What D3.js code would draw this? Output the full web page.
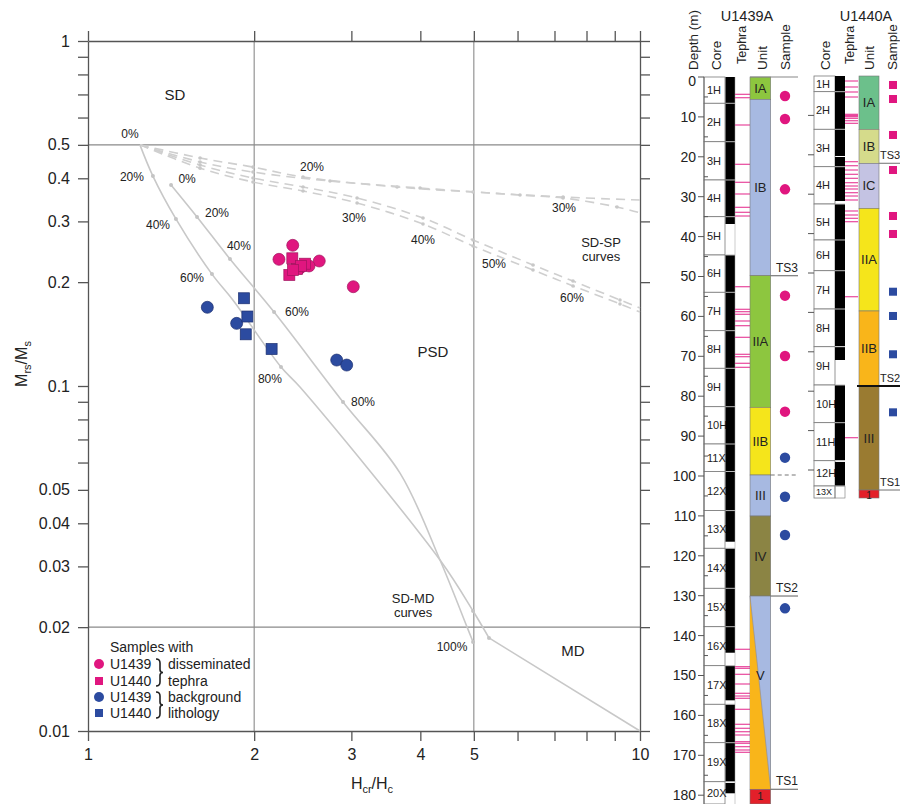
<!DOCTYPE html>
<html><head><meta charset="utf-8">
<script src="https://cdn.jsdelivr.net/npm/d3@7"></script>
<style>body{margin:0;background:#fff} svg{display:block;font-family:"Liberation Sans",Arial,sans-serif}</style>
</head><body><svg id="c" width="900" height="804"></svg>
<script>
// ---------------- Day plot data ----------------
const xTickLabels = [1, 2, 3, 4, 5, 10];
const xTicksAll = [1, 2, 3, 4, 5, 6, 7, 8, 9, 10];
const yTickLabels = [1, 0.5, 0.4, 0.3, 0.2, 0.1, 0.05, 0.04, 0.03, 0.02, 0.01];
const yTicksMinor = [0.9, 0.8, 0.7, 0.6, 0.09, 0.08, 0.07, 0.06];
const yTicksRight = [1,0.9,0.8,0.7,0.6,0.5,0.4,0.3,0.2,0.1,0.09,0.08,0.07,0.06,0.05,0.04,0.03,0.02,0.01];
const gridX = [2, 5];
const gridY = [0.5, 0.02];

// samples [Hcr/Hc, Mrs/Ms]
const u1439Tephra = [[2.349,0.2557],[2.218,0.2329],[2.624,0.2303],[2.514,0.2228],[2.421,0.2198],[3.024,0.1940]];
const u1440Tephra = [[2.345,0.2345],[2.316,0.2098],[2.473,0.2262],[2.391,0.2184],[2.431,0.2228],[2.352,0.2169]];
const u1439Back = [[1.645,0.1691],[1.859,0.1519],[2.822,0.1189],[2.942,0.1150]];
const u1440Back = [[1.917,0.1796],[1.944,0.1590],[1.931,0.1412],[2.151,0.1280]];

// SD-MD mixing curves
const sdmdA = [[1.242,0.5],[1.311,0.406],[1.443,0.305],[1.677,0.211],[1.830,0.1776],[2.237,0.1135],[2.421,0.0993],[4.342,0.0313],[4.984,0.02227],[5.326,0.01861]];
const sdmdATail = [[5.326,0.01861],[10,0.01]];
const sdmdAMarks = [[1.311,0.406],[1.443,0.305],[1.677,0.211],[2.237,0.1135],[4.984,0.02227],[5.326,0.01861]];
const sdmdB = [[1.414,0.3825],[1.576,0.309],[1.808,0.2334],[2.173,0.1638],[2.897,0.0899],[3.675,0.0559],[4.342,0.0313],[4.861,0.02001],[4.984,0.01811]];
const sdmdBMarks = [[1.414,0.3825],[1.576,0.309],[1.808,0.2334],[2.173,0.1638],[2.897,0.0899],[4.984,0.01811]];
// SD-SP mixing curves (dashed)
const sdsp1 = [[1.242,0.5],[1.596,0.458],[1.990,0.431],[2.452,0.4035],[3.630,0.3774],[4.984,0.3649],[7.254,0.353],[10,0.346]];
const sdsp2 = [[1.242,0.5],[1.596,0.446],[1.990,0.417],[2.744,0.3928],[3.995,0.3749],[6.062,0.3577],[7.254,0.3507],[9.085,0.3303],[10,0.3175]];
const sdsp3 = [[1.242,0.5],[1.596,0.437],[1.990,0.4007],[2.452,0.3774],[3.072,0.3507],[4.045,0.3069],[4.984,0.265],[6.400,0.2243],[7.561,0.2015],[9.199,0.1776],[10,0.1683]];
const sdsp4 = [[1.242,0.5],[1.596,0.428],[1.990,0.3902],[2.452,0.3674],[3.072,0.3392],[4.045,0.2948],[4.984,0.2545],[6.400,0.2169],[7.561,0.195],[9.199,0.1729],[10,0.1638]];

const regionLabels = [["SD",1.437,0.6973],["PSD",4.217,0.1255],["MD",7.561,0.01705],["SD-SP",8.5,0.2615],["curves",8.5,0.2381],["SD-MD",3.88,0.02429],["curves",3.88,0.02212]];
const pctLabels = [["0%",1.191,0.5375],["20%",1.201,0.4035],["0%",1.512,0.398],["20%",1.713,0.3173],["40%",1.339,0.2929],["40%",1.877,0.2545],["60%",1.543,0.2056],["60%",2.391,0.1638],["80%",2.136,0.1048],["80%",3.149,0.0899],["100%",4.565,0.01751],
  ["20%",2.546,0.4313],["30%",3.033,0.3069],["40%",4.045,0.265],["50%",5.439,0.2258],["60%",7.53,0.1799],["30%",7.283,0.3281]];

// ---------------- U1439A core log data (depth m) ----------------
const depthTicks = d3.range(0, 181, 10);
const depthMinor = d3.range(5, 180, 10);
const coresA = ["1H","2H","3H","4H","5H","6H","7H","8H","9H","10H","11X","12X","13X","14X","15X","16X","17X","18X","19X","20X"];
const coreTopsA = [0,6.59,16.22,25.81,35.01,44.61,53.96,63.58,73.01,82.63,91.98,98.87,108.67,118.12,128.15,137.77,147.54,157.22,166.84,176.62,182.2];
const recoveryA = [[0,36.84],[44.61,116.47],[118.12,144.29],[147.54,156.22],[157.22,176.62],[176.94,179.52]];
const tephraA = [4.34,5.19,12.03,21.88,26.39,29.32,32.66,33.91,34.84,52.56,58.22,58.82,59.47,61.15,62.33,65.24,69.5,70.1,71.75,72.76,
  143.43,147.79,148.2,149.7,152.13,154.46,155.14,155.71,158.47,162.23,163.23,164.09,164.91,166.59,166.99,167.84,168.67,169.25];
const unitsA = [["IA",0,5.59,"#8dc63f"],["IB",5.59,49.8,"#a7b9e1"],["IIA",49.8,82.78,"#8dc63f"],["IIB",82.78,99.75,"#f5e51b"],["III",99.75,110.03,"#a7b9e1"],["IV",110.03,130.08,"#8b8444"],["V",130.08,178.52,"#a7b9e1"],["1",178.52,182.2,"#e3202a"]];
const samplesATephra = [4.76,10.53,28.15,54.81,69.92,83.88];
const samplesABack = [95.41,105.19,114.79,133.16];
const tsA = [["TS3",49.8,false],["",99.75,true],["TS2",130.08,false],["TS1",178.52,false]];

// ---------------- U1440A core log data (depth m) ----------------
const depthTicksB = d3.range(10, 101, 10);
const coresB = ["1H","2H","3H","4H","5H","6H","7H","8H","9H","10H","11H","12H","13X"];
const coreTopsB = [0,3.98,13.53,23.02,32.49,41.62,49.42,59.14,68.71,78.43,87.99,97.64,104.06,107.11];
const recoveryB = [[0,20.3],[20.56,31.73],[32.49,68.53],[68.78,72.08],[78.43,97.46],[97.97,104.06]];
const tephraB = [1.27,2.79,4.06,5.33,9.72,9.9,10.03,10.2,10.33,10.74,11.35,12.01,21.75,22.77,23.86,24.95,25.97,27.08,27.92,28.68,29.62,30.46,31.47,34.26,35.28,36.12,36.98,56.02,91.8];
const unitsB = [["IA",0,13.53,"#6cc08b"],["IB",13.53,22.16,"#d5db8b"],["IC",22.16,33.58,"#c4c3e3"],["IIA",33.58,59.64,"#f5e51b"],["IIB",59.64,78.68,"#f9b51a"],["III",78.68,105.08,"#9a7b31"],["1",105.08,107.11,"#e3202a"]];
const samplesBTephra = [2.28,5.84,14.97,23.86,35.53,40.1];
const samplesBBack = [54.75,60.91,70.63,85.36];
const tsB = [["TS3",22.16,"#888"],["TS2",78.68,"#111"],["TS1",105.08,"#888"]];

// ---------------- drawing ----------------
const svg = d3.select("#c");
const PINK = "#e0167f", PINK_S = "#a0155e", BLUE = "#2c4ba0", BLUE_S = "#1c2f70";
const x = d3.scaleLog().domain([1, 10]).range([88, 640]);
const y = d3.scaleLog().domain([0.01, 1]).range([731, 41]);
const plot = svg.append("g");

plot.selectAll(".gx").data(gridX).join("line")
  .attr("x1", d => x(d)).attr("x2", d => x(d)).attr("y1", y(1)).attr("y2", y(0.01))
  .attr("stroke", "#8a8a8a").attr("stroke-width", 1.1);
plot.selectAll(".gy").data(gridY).join("line")
  .attr("x1", x(1)).attr("x2", x(10)).attr("y1", d => y(d)).attr("y2", d => y(d))
  .attr("stroke", "#8a8a8a").attr("stroke-width", 1.1);

function styleAxis(g) {
  g.select(".domain").attr("stroke", "#555").attr("stroke-width", 1.3);
  g.selectAll(".tick line").attr("stroke", "#555").attr("stroke-width", 1.3);
  g.selectAll(".tick text").attr("fill", "#222").style("font-size", "16px").style("font-family", '"Liberation Sans",Arial,sans-serif');
}
const fmtY = d => yTickLabels.includes(d) ? String(d) : "";
plot.append("g").attr("transform", `translate(${x(1)},0)`)
  .call(d3.axisLeft(y).tickValues(yTickLabels.concat(yTicksMinor)).tickFormat(fmtY).tickSize(10).tickSizeOuter(0).tickPadding(8))
  .call(styleAxis);
plot.append("g").attr("transform", `translate(${x(10)},0)`)
  .call(d3.axisRight(y).tickValues(yTicksRight).tickFormat("").tickSize(10).tickSizeOuter(0))
  .call(styleAxis);
plot.append("g").attr("transform", `translate(0,${y(1)})`)
  .call(d3.axisTop(x).tickValues(xTicksAll).tickFormat("").tickSize(10).tickSizeOuter(0))
  .call(styleAxis);
plot.append("g").attr("transform", `translate(0,${y(0.01)})`)
  .call(d3.axisBottom(x).tickValues(xTicksAll).tickFormat(d => xTickLabels.includes(d) ? String(d) : "").tickSize(10).tickSizeOuter(0).tickPadding(8))
  .call(styleAxis);

// curves
const lineC = d3.line().x(d => x(d[0])).y(d => y(d[1])).curve(d3.curveCatmullRom.alpha(0.5));
const lineL = d3.line().x(d => x(d[0])).y(d => y(d[1]));
[sdsp1, sdsp2, sdsp3, sdsp4].forEach(c => {
  plot.append("path").attr("d", lineC(c)).attr("fill", "none").attr("stroke", "#cfcfcf")
    .attr("stroke-width", 1.6).attr("stroke-dasharray", "9,6");
  plot.selectAll(null).data(c.slice(1, -1)).join("circle")
    .attr("cx", d => x(d[0])).attr("cy", d => y(d[1])).attr("r", 1.8).attr("fill", "#c8c8c8");
});
plot.append("path").attr("d", lineC(sdmdA)).attr("fill", "none").attr("stroke", "#c8c8c8").attr("stroke-width", 1.6);
plot.append("path").attr("d", lineL(sdmdATail)).attr("fill", "none").attr("stroke", "#c8c8c8").attr("stroke-width", 1.6);
plot.append("path").attr("d", lineC(sdmdB)).attr("fill", "none").attr("stroke", "#c8c8c8").attr("stroke-width", 1.6);
plot.selectAll(".mk").data(sdmdAMarks.concat(sdmdBMarks)).join("circle")
  .attr("cx", d => x(d[0])).attr("cy", d => y(d[1])).attr("r", 2).attr("fill", "#c4c4c4");

plot.selectAll(".rl").data(regionLabels).join("text")
  .attr("x", d => x(d[1])).attr("y", d => y(d[2])).attr("dy", "0.35em").attr("text-anchor", "middle")
  .style("font-size", d => d[0] === "curves" || d[0].includes("-") ? "13px" : "15px").attr("fill", "#222").text(d => d[0]);
plot.selectAll(".pl").data(pctLabels).join("text")
  .attr("x", d => x(d[1])).attr("y", d => y(d[2])).attr("dy", "0.35em").attr("text-anchor", "middle")
  .style("font-size", "12px").attr("fill", "#222").text(d => d[0]);

function circles(data, fill, stroke) {
  plot.selectAll(null).data(data).join("circle")
    .attr("cx", d => x(d[0])).attr("cy", d => y(d[1])).attr("r", 6)
    .attr("fill", fill).attr("stroke", stroke).attr("stroke-width", 0.7);
}
function squares(data, fill, stroke) {
  plot.selectAll(null).data(data).join("rect")
    .attr("x", d => x(d[0]) - 5.5).attr("y", d => y(d[1]) - 5.5).attr("width", 11).attr("height", 11)
    .attr("fill", fill).attr("stroke", stroke).attr("stroke-width", 0.7);
}
circles(u1439Back, BLUE, BLUE_S);
squares(u1440Back, BLUE, BLUE_S);
circles(u1439Tephra, PINK, PINK_S);
squares(u1440Tephra, PINK, PINK_S);

// axis titles
const yl = svg.append("text").attr("transform", "translate(27,364) rotate(-90)").attr("text-anchor", "middle")
  .style("font-size", "16px").attr("fill", "#222");
yl.append("tspan").text("M");
yl.append("tspan").text("rs").style("font-size", "11px").attr("dy", 4);
yl.append("tspan").text("/M").attr("dy", -4);
yl.append("tspan").text("s").style("font-size", "11px").attr("dy", 4);
const xl = svg.append("text").attr("x", 372).attr("y", 789).attr("text-anchor", "middle")
  .style("font-size", "16px").attr("fill", "#222");
xl.append("tspan").text("H");
xl.append("tspan").text("cr").style("font-size", "11px").attr("dy", 4);
xl.append("tspan").text("/H").attr("dy", -4);
xl.append("tspan").text("c").style("font-size", "11px").attr("dy", 4);

// legend
const lg = svg.append("g").style("font-size", "14px").attr("fill", "#222");
lg.append("text").attr("x", 110).attr("y", 652).text("Samples with");
const legRows = [["U1439", "c", PINK, 664], ["U1440", "s", PINK, 681], ["U1439", "c", BLUE, 697], ["U1440", "s", BLUE, 713]];
legRows.forEach(r => {
  if (r[1] === "c") lg.append("circle").attr("cx", 99).attr("cy", r[3]).attr("r", 5).attr("fill", r[2]);
  else lg.append("rect").attr("x", 95).attr("y", r[3] - 4).attr("width", 8).attr("height", 8).attr("fill", r[2]);
  lg.append("text").attr("x", 110).attr("y", r[3]).attr("dy", "0.35em").text(r[0]);
});
[["disseminated", "tephra", 664, 681], ["background", "lithology", 697, 713]].forEach(b => {
  lg.append("text").attr("x", 168).attr("y", b[2]).attr("dy", "0.35em").text(b[0]);
  lg.append("text").attr("x", 168).attr("y", b[3]).attr("dy", "0.35em").text(b[1]);
  const y0 = b[2] - 5, y1 = b[3] + 5, m = (y0 + y1) / 2, bx = 156;
  lg.append("path").attr("fill", "none").attr("stroke", "#222").attr("stroke-width", 1.6)
    .attr("d", `M${bx},${y0} q4,0 4,4 V${m - 3} q0,3 3,3 q-3,0 -3,3 V${y1 - 4} q0,4 -4,4`);
});

// ---------------- U1439A log ----------------
const yA = d3.scaleLinear().domain([0, 180]).range([77, 795.2]);
const A = svg.append("g");
const cx0 = 704, cx1 = 725, bx0 = 725.5, bx1 = 735, tx1 = 750, ux0 = 750, ux1 = 770.7, sx = 785;
A.append("text").attr("x", 747).attr("y", 21).attr("text-anchor", "middle").style("font-size", "14.5px").attr("fill", "#222").text("U1439A");
[["Depth (m)", 693, 70, 13.5], ["Core", 716, 70, 13.5], ["Tephra", 742, 64, 12.5], ["Unit", 762, 70, 13.5], ["Sample", 785, 70, 13.5]].forEach(h => {
  A.append("text").attr("transform", `translate(${h[1]},${h[2]}) rotate(-90)`).attr("dy", "0.35em")
    .style("font-size", h[3] + "px").attr("fill", "#222").text(h[0]);
});
coresA.forEach((c, i) => {
  const t = coreTopsA[i], b = coreTopsA[i + 1];
  A.append("rect").attr("x", cx0).attr("y", yA(t)).attr("width", cx1 - cx0).attr("height", Math.min(yA(b), 804) - yA(t))
    .attr("fill", "#fff").attr("stroke", "#7a7a7a").attr("stroke-width", 0.8);
  A.append("text").attr("x", 707).attr("y", (yA(t) + Math.min(yA(b), 804)) / 2).attr("dy", "0.35em")
    .style("font-size", "11px").attr("fill", "#222").text(c);
});
A.selectAll(null).data(recoveryA).join("rect").attr("x", bx0).attr("width", bx1 - bx0)
  .attr("y", d => yA(d[0])).attr("height", d => yA(d[1]) - yA(d[0])).attr("fill", "#000");
A.selectAll(null).data(coreTopsA.slice(1, -1)).join("line").attr("x1", bx0).attr("x2", bx1)
  .attr("y1", d => yA(d)).attr("y2", d => yA(d)).attr("stroke", "#bbb").attr("stroke-width", 1);
A.append("line").attr("x1", bx1).attr("x2", bx1).attr("y1", yA(0)).attr("y2", 804).attr("stroke", "#999").attr("stroke-width", 0.5);
A.append("line").attr("x1", cx0).attr("x2", cx0).attr("y1", yA(0)).attr("y2", 804).attr("stroke", "#666").attr("stroke-width", 1);
A.selectAll(null).data(depthTicks).join("line").attr("x1", cx0 - 6).attr("x2", cx0).attr("y1", d => yA(d)).attr("y2", d => yA(d)).attr("stroke", "#555");
A.selectAll(null).data(depthMinor).join("line").attr("x1", cx0).attr("x2", cx0 + 4).attr("y1", d => yA(d)).attr("y2", d => yA(d)).attr("stroke", "#555");
A.selectAll(null).data(depthTicks).join("text").attr("x", cx0 - 8).attr("y", d => yA(d) + (d === 0 ? 4 : 0)).attr("dy", "0.35em").attr("text-anchor", "end")
  .style("font-size", "14px").attr("fill", "#222").text(d => d);
A.selectAll(null).data(tephraA).join("line").attr("x1", bx1).attr("x2", tx1).attr("y1", d => yA(d)).attr("y2", d => yA(d))
  .attr("stroke", "#e8479c").attr("stroke-width", 1.2);
unitsA.forEach(u => {
  const t = yA(u[1]), b = Math.min(yA(u[2]), 804);
  A.append("rect").attr("x", ux0).attr("y", t).attr("width", ux1 - ux0).attr("height", b - t).attr("fill", u[3]).attr("stroke", "#777").attr("stroke-width", 0.6);
  if (u[0] === "V") {
    A.append("path").attr("d", `M${ux0},${t} L${ux1},${b} L${ux0},${b} Z`).attr("fill", "#f9b51a");
    A.append("line").attr("x1", ux0).attr("y1", t).attr("x2", ux1).attr("y2", b).attr("stroke", "#8a8a9a").attr("stroke-width", 0.6);
  }
  A.append("text").attr("x", (ux0 + ux1) / 2).attr("y", u[0] === "V" ? yA(150) : (u[0] === "1" ? t + 7 : (t + b) / 2)).attr("dy", "0.35em").attr("text-anchor", "middle")
    .style("font-size", u[0] === "1" ? "11px" : "13px").attr("fill", "#222").text(u[0]);
});
A.append("line").attr("x1", ux0).attr("x2", 798).attr("y1", yA(0)).attr("y2", yA(0)).attr("stroke", "#888").attr("stroke-width", 1.2);
tsA.forEach(t => {
  A.append("line").attr("x1", ux1).attr("x2", 798).attr("y1", yA(t[1])).attr("y2", yA(t[1])).attr("stroke", "#777").attr("stroke-width", 1.2)
    .attr("stroke-dasharray", t[2] ? "4,3" : null);
  if (t[0]) A.append("text").attr("x", 776).attr("y", yA(t[1]) - 4).style("font-size", "12px").attr("fill", "#222").text(t[0]);
});
A.selectAll(null).data(samplesATephra).join("circle").attr("cx", sx).attr("cy", d => yA(d)).attr("r", 5.2).attr("fill", PINK);
A.selectAll(null).data(samplesABack).join("circle").attr("cx", sx).attr("cy", d => yA(d)).attr("r", 5.2).attr("fill", BLUE);

// ---------------- U1440A log ----------------
const yB = d3.scaleLinear().domain([0, 100]).range([76, 470]);
const B = svg.append("g");
const dx0 = 814, dx1 = 835, ex0 = 835, ex1 = 845, fx1 = 858, vx0 = 859, vx1 = 879, qx = 893;
B.append("text").attr("x", 866).attr("y", 21).attr("text-anchor", "middle").style("font-size", "14.5px").attr("fill", "#222").text("U1440A");
[["Core", 825, 70, 13.5], ["Tephra", 850, 64, 12.5], ["Unit", 869, 70, 13.5], ["Sample", 892, 70, 13.5]].forEach(h => {
  B.append("text").attr("transform", `translate(${h[1]},${h[2]}) rotate(-90)`).attr("dy", "0.35em")
    .style("font-size", h[3] + "px").attr("fill", "#222").text(h[0]);
});
coresB.forEach((c, i) => {
  const t = coreTopsB[i], b = coreTopsB[i + 1];
  B.append("rect").attr("x", dx0).attr("y", yB(t)).attr("width", dx1 - dx0).attr("height", yB(b) - yB(t))
    .attr("fill", "#fff").attr("stroke", "#7a7a7a").attr("stroke-width", 0.8);
  B.append("text").attr("x", 816).attr("y", (yB(t) + yB(b)) / 2).attr("dy", "0.35em")
    .style("font-size", c === "13X" ? "9px" : "11px").attr("fill", "#222").text(c);
});
B.selectAll(null).data(depthTicksB).join("line").attr("x1", dx0 - 6).attr("x2", dx0).attr("y1", d => yB(d)).attr("y2", d => yB(d)).attr("stroke", "#555");
B.selectAll(null).data(recoveryB).join("rect").attr("x", ex0).attr("width", ex1 - ex0)
  .attr("y", d => yB(d[0])).attr("height", d => yB(d[1]) - yB(d[0])).attr("fill", "#000");
B.selectAll(null).data(coreTopsB.slice(1, -1)).join("line").attr("x1", ex0).attr("x2", ex1)
  .attr("y1", d => yB(d)).attr("y2", d => yB(d)).attr("stroke", "#bbb").attr("stroke-width", 1);
B.append("rect").attr("x", ex0).attr("y", yB(coreTopsB[12])).attr("width", ex1 - ex0).attr("height", yB(coreTopsB[13]) - yB(coreTopsB[12]))
  .attr("fill", "none").attr("stroke", "#777").attr("stroke-width", 0.6);
B.selectAll(null).data(tephraB).join("line").attr("x1", ex1).attr("x2", fx1).attr("y1", d => yB(d)).attr("y2", d => yB(d))
  .attr("stroke", "#e8479c").attr("stroke-width", 1.2);
unitsB.forEach(u => {
  const t = yB(u[1]), b = yB(u[2]);
  B.append("rect").attr("x", vx0).attr("y", t).attr("width", vx1 - vx0).attr("height", b - t).attr("fill", u[3]).attr("stroke", "#777").attr("stroke-width", 0.6);
  B.append("text").attr("x", (vx0 + vx1) / 2).attr("y", (t + b) / 2 + (u[0] === "1" ? 1 : 0)).attr("dy", "0.35em").attr("text-anchor", "middle")
    .style("font-size", u[0] === "1" ? "10px" : "13px").attr("fill", "#222").text(u[0]);
});
tsB.forEach(t => {
  B.append("line").attr("x1", t[2] === "#111" ? 857 : vx1).attr("x2", 900).attr("y1", yB(t[1])).attr("y2", yB(t[1]))
    .attr("stroke", t[2]).attr("stroke-width", t[2] === "#111" ? 1.8 : 1.2);
  B.append("text").attr("x", 880).attr("y", yB(t[1]) - 4).style("font-size", "11px").attr("fill", "#222").text(t[0]);
});
B.selectAll(null).data(samplesBTephra).join("rect").attr("x", qx - 4).attr("y", d => yB(d) - 4).attr("width", 8).attr("height", 8).attr("fill", PINK);
B.selectAll(null).data(samplesBBack).join("rect").attr("x", qx - 4).attr("y", d => yB(d) - 4).attr("width", 8).attr("height", 8).attr("fill", BLUE);
</script></body></html>
